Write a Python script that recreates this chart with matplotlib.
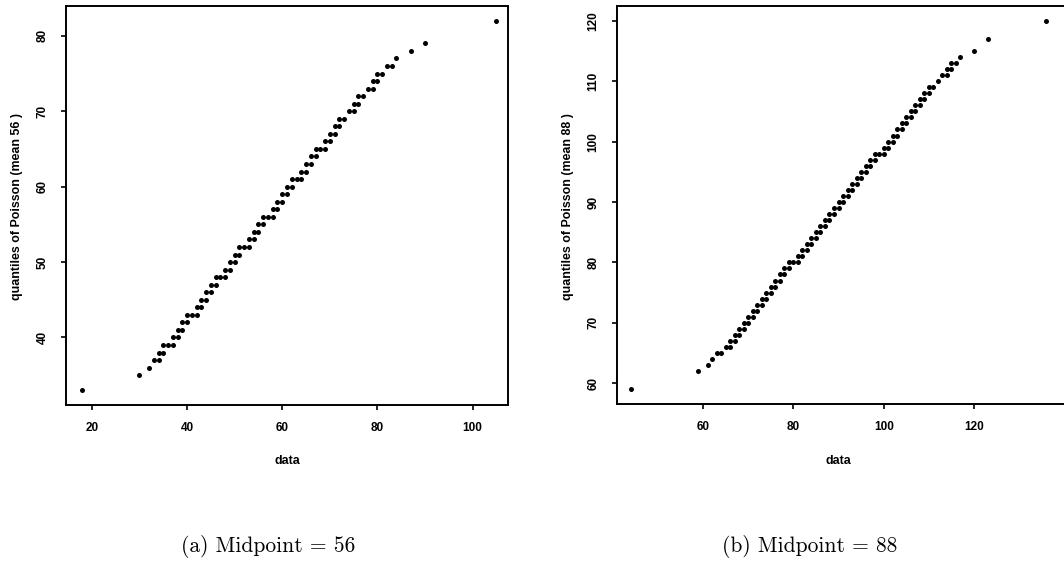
import matplotlib
matplotlib.use("Agg")
import matplotlib.pyplot as plt

# Panel (a): Poisson quantile level -> sorted data values plotted at that level
q56_levels = [33, 35, 36, 37, 38, 39, 40, 41, 42, 43, 44, 45, 46, 47, 48,
              49, 50, 51, 52, 53, 54, 55, 56, 57, 58, 59, 60, 61, 62, 63,
              64, 65, 66, 67, 68, 69, 70, 71, 72, 73, 74, 75, 76, 77, 78,
              79, 82]
q56_data = [[18], [30], [32], [33, 34], [34, 35], [35, 36, 37], [37, 38],
            [38, 39], [39, 40], [40, 41, 42], [42, 43], [43, 44], [44, 45],
            [45, 46], [46, 47, 48], [48, 49], [49, 50], [50, 51],
            [51, 52, 53], [53, 54], [54, 55], [55, 56], [56, 57, 58],
            [58, 59], [59, 60], [60, 61], [61, 62], [62, 63, 64], [64, 65],
            [65, 66], [66, 67], [67, 68, 69], [69, 70], [70, 71], [71, 72],
            [72, 73], [74, 75], [75, 76], [76, 77], [78, 79], [79, 80],
            [80, 81], [82, 83], [84], [87], [90], [105]]

# Panel (b)
q88_levels = [59, 62, 63, 64, 65, 66, 67, 68, 69, 70, 71, 72, 73, 74, 75,
              76, 77, 78, 79, 80, 81, 82, 83, 84, 85, 86, 87, 88, 89, 90,
              91, 92, 93, 94, 95, 96, 97, 98, 99, 100, 101, 102, 103, 104,
              105, 106, 107, 108, 109, 110, 111, 112, 113, 114, 115, 117,
              120]
q88_data = [[44], [59], [61], [62], [63, 64], [65, 66], [66, 67], [67, 68],
            [68, 69], [69, 70], [70, 71], [71, 72], [72, 73], [73, 74],
            [74, 75], [75, 76], [76, 77], [77, 78], [78, 79], [79, 80, 81],
            [81, 82], [82, 83], [83, 84], [84, 85], [85, 86], [86, 87],
            [87, 88], [88, 89], [89, 90], [90, 91], [91, 92], [92, 93],
            [93, 94], [94, 95], [95, 96], [96, 97], [97, 98], [98, 99, 100],
            [100, 101], [101, 102], [102, 103], [103, 104], [104, 105],
            [105, 106], [106, 107], [107, 108], [108, 109], [109, 110],
            [110, 111], [112], [113, 114], [114, 115], [115, 116], [117],
            [120], [123], [136]]

x_ticks_a = [20, 40, 60, 80, 100]
y_ticks_a = [40, 50, 60, 70, 80]
x_ticks_b = [60, 80, 100, 120]
y_ticks_b = [60, 70, 80, 90, 100, 110, 120]

W, H = 1064, 574
fig = plt.figure(figsize=(W / 100, H / 100), dpi=100)
fig.patch.set_facecolor("white")

LABEL_FONT = dict(family="Liberation Sans", weight="bold", size=8.9)


def add_px_axes(left, top, right, bottom):
    return fig.add_axes([left / W, 1 - bottom / H,
                         (right - left) / W, (bottom - top) / H])


def flatten(levels, groups):
    xs, ys = [], []
    for q, grp in zip(levels, groups):
        for v in grp:
            xs.append(v)
            ys.append(q)
    return xs, ys


def r_limits(vals):
    lo, hi = min(vals), max(vals)
    pad = 0.04 * (hi - lo)
    return lo - pad, hi + pad


def qq_panel(ax, levels, groups, xticks, yticks, ylabel, xlim=None):
    xs, ys = flatten(levels, groups)
    ax.plot(xs, ys, "o", color="black", markersize=3.6, markeredgewidth=0)
    ax.set_xlim(xlim if xlim else r_limits(xs))
    ax.set_ylim(r_limits(ys))
    ax.set_xticks(xticks)
    ax.set_yticks(yticks)
    for s in ax.spines.values():
        s.set_linewidth(1.4)
        s.set_clip_on(False)
    ax.tick_params(direction="out", length=3.5, width=1.2, pad=9,
                   top=False, right=False)
    for lab in ax.get_xticklabels() + ax.get_yticklabels():
        lab.set_fontfamily("Liberation Sans")
        lab.set_fontweight("bold")
        lab.set_fontsize(8.5)
    for lab in ax.get_yticklabels():
        lab.set_rotation(90)
        lab.set_va("center")
    ax.set_xlabel("data", **LABEL_FONT)
    ax.set_ylabel(ylabel, **LABEL_FONT)
    ax.xaxis.label.set_va("center")
    ax.yaxis.label.set_va("center")


ax_a = add_px_axes(66, 6, 508, 405)
qq_panel(ax_a, q56_levels, q56_data, x_ticks_a, y_ticks_a,
         "quantiles of Poisson (mean 56 )", xlim=(14.56, 107.44))
ax_a.xaxis.set_label_coords(287 / W, 1 - 461 / H, transform=fig.transFigure)
ax_a.yaxis.set_label_coords(17 / W, 1 - 207 / H, transform=fig.transFigure)

ax_b = add_px_axes(617, 6, 1068, 404)
qq_panel(ax_b, q88_levels, q88_data, x_ticks_b, y_ticks_b,
         "quantiles of Poisson (mean 88 )", xlim=(40.96, 140.8))
ax_b.xaxis.set_label_coords(838 / W, 1 - 461 / H, transform=fig.transFigure)
ax_b.yaxis.set_label_coords(568 / W, 1 - 207 / H, transform=fig.transFigure)

CAP_FONT = dict(family="cmr10", size=15.5, ha="center", va="center")
fig.text(268 / W, 1 - 547 / H, "(a) Midpoint = 56", **CAP_FONT)
fig.text(810 / W, 1 - 547 / H, "(b) Midpoint = 88", **CAP_FONT)

fig.savefig("out.png", dpi=100, facecolor="white")
